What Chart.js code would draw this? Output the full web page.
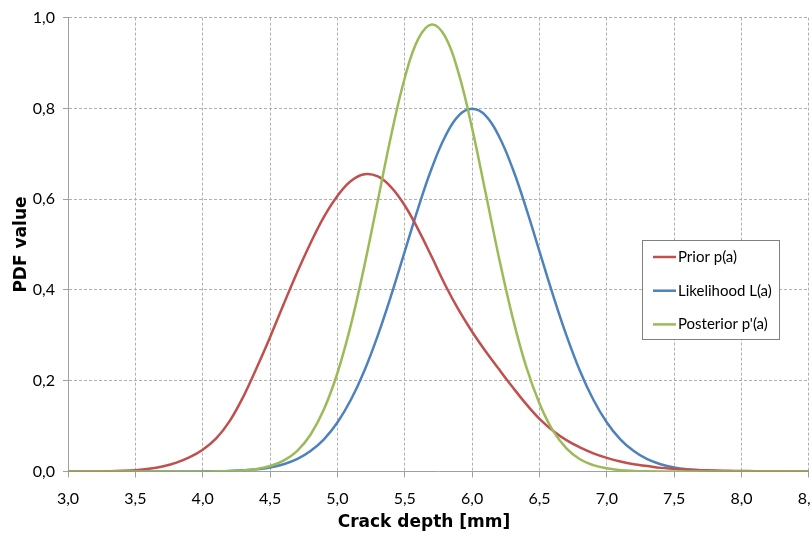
<!DOCTYPE html>
<html lang="en">
<head>
    <meta charset="UTF-8">
    <title>Prior, Likelihood and Posterior</title>
    <script src="https://cdn.jsdelivr.net/npm/chart.js"></script>
    <style>
        html, body {
            margin: 0;
            padding: 0;
            background: #fff;
            overflow: hidden; /* the right edge of the chart runs past the window, like the original */
        }
        .chart-box {
            width: 832px;
            height: 544px;
        }
    </style>
</head>
<body>
    <div class="chart-box">
        <canvas id="pdfChart"></canvas>
    </div>

    <script>
        // crack depth in mm, every 0.1 from 3.0 to 8.5
        const crackDepth = [
            3.0, 3.1, 3.2, 3.3, 3.4, 3.5, 3.6, 3.7, 3.8, 3.9, 4.0,
            4.1, 4.2, 4.3, 4.4, 4.5, 4.6, 4.7, 4.8, 4.9, 5.0,
            5.1, 5.2, 5.3, 5.4, 5.5, 5.6, 5.7, 5.8, 5.9, 6.0,
            6.1, 6.2, 6.3, 6.4, 6.5, 6.6, 6.7, 6.8, 6.9, 7.0,
            7.1, 7.2, 7.3, 7.4, 7.5, 7.6, 7.7, 7.8, 7.9, 8.0,
            8.1, 8.2, 8.3, 8.4, 8.5
        ];

        const priorPdf = [
            0.0000, 0.0001, 0.0003, 0.0007, 0.0015, 0.003, 0.006, 0.011, 0.019, 0.031, 0.048,
            0.073, 0.111, 0.164, 0.228, 0.296, 0.368, 0.438, 0.503, 0.561, 0.607,
            0.640, 0.655, 0.650, 0.626, 0.586, 0.533, 0.473, 0.411, 0.356, 0.308,
            0.265, 0.225, 0.186, 0.149, 0.116, 0.090, 0.069, 0.053, 0.040, 0.030,
            0.022, 0.016, 0.012, 0.008, 0.006, 0.004, 0.003, 0.002, 0.0015, 0.001,
            0.0007, 0.0005, 0.0003, 0.0002, 0.0001
        ];

        const likelihoodPdf = [
            0, 0, 0, 0, 0, 0, 0, 0.0001, 0.0001, 0.0002, 0.0003,
            0.0006, 0.0012, 0.0025, 0.0048, 0.0089, 0.016, 0.027, 0.045, 0.071, 0.108,
            0.158, 0.222, 0.300, 0.389, 0.485, 0.581, 0.668, 0.738, 0.784, 0.799,
            0.784, 0.738, 0.668, 0.581, 0.485, 0.389, 0.300, 0.222, 0.158, 0.108,
            0.071, 0.045, 0.027, 0.016, 0.0089, 0.0048, 0.0025, 0.0012, 0.0006, 0.0003,
            0.0002, 0.0001, 0.0001, 0, 0
        ];

        const posteriorPdf = [
            0, 0, 0, 0, 0, 0, 0, 0, 0, 0, 0.0001,
            0.0004, 0.001, 0.0024, 0.0055, 0.012, 0.024, 0.045, 0.081, 0.137, 0.217,
            0.323, 0.453, 0.597, 0.742, 0.867, 0.953, 0.985, 0.958, 0.877, 0.756,
            0.614, 0.470, 0.340, 0.232, 0.150, 0.090, 0.051, 0.027, 0.014, 0.007,
            0.003, 0.0013, 0.0005, 0.0002, 0.0001, 0, 0, 0, 0, 0,
            0, 0, 0, 0, 0
        ];

        const seriesNames = ['Prior p(a)', 'Likelihood L(a)', "Posterior p'(a)"];
        const seriesColors = ['#C0504D', '#4F81BD', '#9BBB59'];
        const xTitle = 'Crack depth [mm]';
        const yTitle = 'PDF value';

        const toPoints = (ys) => crackDepth.map((x, i) => ({ x: x, y: ys[i] }));
        const commaFmt = (v) => v.toFixed(1).replace('.', ',');

        Chart.defaults.font.family = 'Lato, "Open Sans", sans-serif';
        Chart.defaults.color = '#000';

        const titleFont = { family: '"DejaVu Sans", Verdana, sans-serif', size: 17, weight: 'bold' };

        // framed legend inside the plot + x axis title (sits a bit left of the plot centre in the original)
        const boxLegend = {
            id: 'boxLegend',
            afterDraw(chart) {
                const ctx = chart.ctx;
                const bx = 642, by = 240, bw = 137, bh = 99;
                ctx.save();
                ctx.fillStyle = '#fff';
                ctx.fillRect(bx, by, bw, bh);
                ctx.strokeStyle = '#808080';
                ctx.lineWidth = 1;
                ctx.strokeRect(bx + 0.5, by + 0.5, bw, bh);
                ctx.font = '15px Lato, "Open Sans", sans-serif';
                ctx.textBaseline = 'middle';
                ctx.textAlign = 'left';
                chart.data.datasets.forEach((ds, i) => {
                    const cy = by + 17 + i * 33.7;
                    ctx.strokeStyle = ds.borderColor;
                    ctx.lineWidth = 2.5;
                    ctx.beginPath();
                    ctx.moveTo(bx + 11, cy);
                    ctx.lineTo(bx + 34, cy);
                    ctx.stroke();
                    ctx.fillStyle = '#000';
                    ctx.fillText(ds.label, bx + 36, cy);
                });

                ctx.font = 'bold 17px "DejaVu Sans", Verdana, sans-serif';
                ctx.textAlign = 'center';
                ctx.textBaseline = 'alphabetic';
                ctx.fillStyle = '#000';
                ctx.fillText(xTitle, 424, 527);
                ctx.restore();
            }
        };

        const ctx = document.getElementById('pdfChart').getContext('2d');
        const pdfChart = new Chart(ctx, {
            type: 'line',
            data: {
                datasets: [
                    { label: seriesNames[0], data: toPoints(priorPdf), borderColor: seriesColors[0], order: 1 },
                    { label: seriesNames[1], data: toPoints(likelihoodPdf), borderColor: seriesColors[1], order: 2 },
                    { label: seriesNames[2], data: toPoints(posteriorPdf), borderColor: seriesColors[2], order: 0 }
                ]
            },
            options: {
                responsive: true,
                maintainAspectRatio: false,
                animation: false,
                layout: {
                    padding: { top: 5, left: 0, right: 0, bottom: 0 }
                },
                elements: {
                    point: { radius: 0 },
                    line: { borderWidth: 2.5, tension: 0.4, fill: false }
                },
                plugins: {
                    legend: { display: false },
                    tooltip: { enabled: false }
                },
                scales: {
                    x: {
                        type: 'linear',
                        min: 3,
                        max: 8.5,
                        afterFit: (scale) => { scale.height = 72.5; },
                        grid: { color: '#b0b0b0', tickLength: 6, tickColor: '#a0a0a0' },
                        border: { color: '#a0a0a0', width: 1, dash: [3, 2] },
                        ticks: {
                            stepSize: 0.5,
                            padding: 12,
                            font: { size: 16 },
                            callback: (v) => commaFmt(v)
                        }
                    },
                    y: {
                        min: 0,
                        max: 1,
                        afterFit: (scale) => { scale.width = 68; },
                        grid: { color: '#b0b0b0', tickLength: 5, tickColor: '#a0a0a0' },
                        border: { color: '#a0a0a0', width: 1, dash: [3, 2] },
                        ticks: {
                            stepSize: 0.2,
                            padding: 8,
                            font: { size: 16 },
                            callback: (v) => commaFmt(v)
                        },
                        title: {
                            display: true,
                            text: yTitle,
                            font: titleFont,
                            padding: { top: 11, bottom: 0 }
                        }
                    }
                }
            },
            plugins: [boxLegend]
        });
    </script>
</body>
</html>
